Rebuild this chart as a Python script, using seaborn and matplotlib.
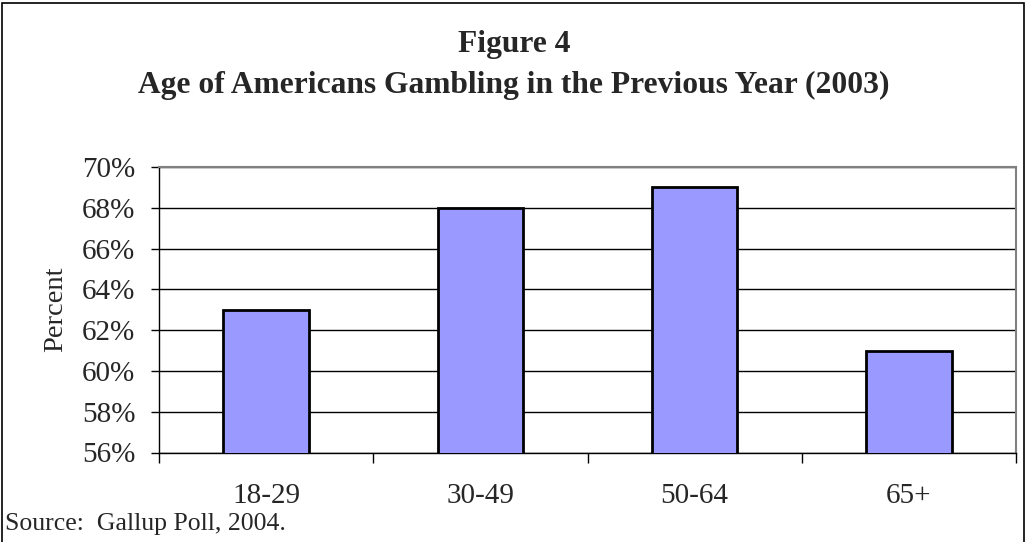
import matplotlib
matplotlib.use("Agg")
import matplotlib.pyplot as plt
import numpy as np
import pandas as pd
import seaborn as sns
from matplotlib.patches import Rectangle
from matplotlib.ticker import PercentFormatter

AGE_GROUPS = ["18-29", "30-49", "50-64", "65+"]
PERCENT_GAMBLED = [63, 68, 69, 61]
Y_TICKS = [56, 58, 60, 62, 64, 66, 68, 70]

TITLE = "Figure 4\nAge of Americans Gambling in the Previous Year (2003)"
SOURCE = "Source:  Gallup Poll, 2004."
BAR_COLOR = "#9999FF"


def main():
    sns.set_theme(style="white")
    plt.rcParams["font.family"] = ["Liberation Serif", "DejaVu Serif"]

    df = pd.DataFrame({"age": AGE_GROUPS, "pct": PERCENT_GAMBLED})

    W, H = 1028, 542
    fig = plt.figure(figsize=(W / 100, H / 100), dpi=100)
    ax = fig.add_axes([159 / W, 1 - 452.5 / H, (1016 - 159) / W, (452.5 - 167) / H])

    sns.barplot(data=df, x="age", y="pct", color=BAR_COLOR, width=0.4,
                edgecolor="black", linewidth=2, saturation=1, ax=ax, zorder=3)

    ax.set_ylim(Y_TICKS[0], Y_TICKS[-1])
    ax.set_xlim(-0.5, len(AGE_GROUPS) - 0.5)
    ax.set_yticks(Y_TICKS)
    ax.yaxis.set_major_formatter(PercentFormatter(decimals=0))
    ax.yaxis.grid(True, color="black", linewidth=1)
    ax.set_axisbelow(True)

    # category ticks sit on the boundaries, labels in the middle
    ax.set_xticks(np.arange(len(AGE_GROUPS)))
    ax.set_xticks(np.arange(len(AGE_GROUPS) + 1) - 0.5, minor=True)
    ax.tick_params(axis="x", which="major", length=0, pad=22, labelsize=21)
    ax.tick_params(axis="x", which="minor", length=7, width=1, color="black",
                   direction="out", bottom=True)
    ax.tick_params(axis="y", length=6, width=1, color="black", direction="out",
                   left=True, pad=11, labelsize=21)

    ax.set_xlabel("")
    ax.set_ylabel("Percent", fontsize=20.5, labelpad=10)

    for side in ["left", "bottom"]:
        ax.spines[side].set_color("black")
        ax.spines[side].set_linewidth(1)
    for side in ["top", "right"]:
        ax.spines[side].set_visible(True)
        ax.spines[side].set_color("#808080")
        ax.spines[side].set_linewidth(1.5)

    fig.text(0.5, 1 - 65 / H, TITLE, ha="center", va="center", fontsize=22.7,
             fontweight="bold", linespacing=1.55)
    fig.text(5 / W, 1 - 524 / H, SOURCE, ha="left", va="center", fontsize=18.5)

    # outer chart border (bottom edge falls outside the image)
    fig.patches.append(Rectangle((2 / W, -0.05), (1024 - 2) / W, 1.05 - 3 / H,
                                 transform=fig.transFigure, fill=False,
                                 edgecolor="black", linewidth=1.2))

    fig.savefig("out.png", dpi=100)
    plt.close(fig)


if __name__ == "__main__":
    main()
